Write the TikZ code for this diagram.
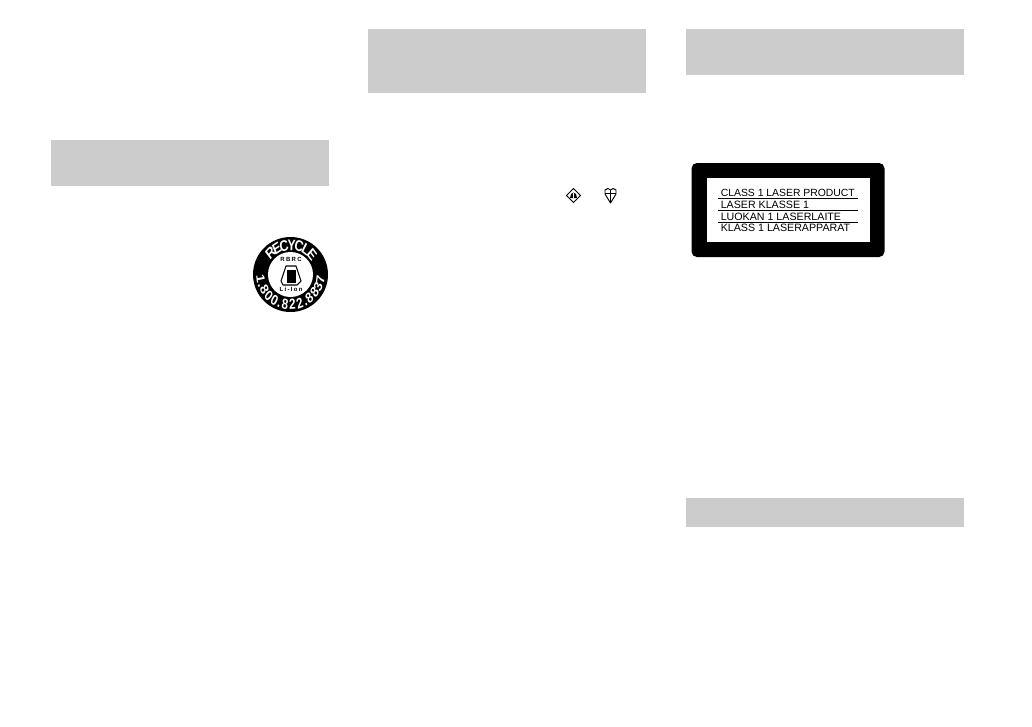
\documentclass[tikz,border=0pt]{standalone}
\usepackage{fontspec}
\setmainfont{Liberation Sans}
\definecolor{bargray}{RGB}{204,204,204}
\tikzset{
	bar/.style={fill=bargray, draw=none},
	lasertext/.style={anchor=base west, inner sep=0pt, font=\fontsize{8pt}{9pt}\selectfont},
	laserrule/.style={line width=.6pt},
	logotext/.style={anchor=base, inner sep=0pt, font=\bfseries\fontsize{4.5pt}{5pt}\selectfont\addfontfeature{LetterSpace=22}},
	ringletter/.style={white, inner sep=0pt, text height=8.3pt, text depth=0pt, xscale=.8, font=\bfseries\fontsize{11.5pt}{12pt}\selectfont},
	ringdigit/.style={white, inner sep=0pt, text height=7.9pt, text depth=0pt, xscale=.8, font=\bfseries\fontsize{11pt}{12pt}\selectfont},
}
\begin{document}
\begin{tikzpicture}[x=.75pt, y=-.75pt]
	\useasboundingbox[fill=white] (0, 0) rectangle (1032, 726);
	% grey bars
	\fill[bar] (51, 140) rectangle (329, 186);
	\fill[bar] (368, 29) rectangle (646, 93);
	\fill[bar] (686, 29) rectangle (964, 75);
	\fill[bar] (686, 498) rectangle (964, 527);
	% recycle seal
	\fill (290.5, 274.5) circle (37.5);
	\fill[white] (290.5, 274.5) circle (22.5);
	\foreach \ch/\ang [count=\i] in {R/133, E/118, C/103, Y/88, C/73, L/58, E/43}
		\node[ringletter, rotate=\ang-90] (letter\i) at ([shift={(290.5, 274.5)}] -\ang:29.5) {\ch};
	\foreach \ch/\ang [count=\i] in {1/189, ./199.7, 8/210.3, 0/224.3, 0/238.3, ./249, 8/259.7, 2/273.7, 2/287.7, ./298.3, 8/309, 8/323, 3/337, 7/351}
		\node[ringdigit, rotate=\ang+90] (digit\i) at ([shift={(290.5, 274.5)}] -\ang:30) {\ch};
	\node[logotext] (rbrc) at (291, 261) {RBRC};
	\node[logotext] (liion) at (291, 291.5) {Li-Ion};
	\draw[line width=.8pt, line join=round] (281, 281) -- (286, 266) -- (296, 266) -- (301, 281) -- (297, 285) -- (283, 285) -- cycle;
	\fill (287, 270) rectangle (295.5, 283);
	% marks
	\draw[line width=.7pt] (573.5, 188.5) -- (580.5, 195.5) -- (573.5, 202.5) -- (566.5, 195.5) -- cycle;
	\fill (570, 198) -- (571, 194) -- (573.5, 192.5) -- (576, 194) -- (577, 198) -- cycle;
	\draw[white, line width=.4pt] (573.5, 192.5) -- (573.5, 198);
	\draw[line width=.7pt, line join=round] (610.5, 203) -- (605, 194) -- (605, 190) -- (608, 188.5) -- (610.5, 190) -- (613, 188.5) -- (616, 190) -- (616, 194) -- cycle;
	\draw[line width=.6pt] (605, 193) -- (616, 193) (610.5, 190) -- (610.5, 203);
	% laser label
	\fill[rounded corners=4] (691.5, 163) rectangle (884.5, 257);
	\fill[white] (706.5, 178) rectangle (870, 242);
	\node[lasertext, font=\fontsize{7.8pt}{9pt}\selectfont] (class) at (720.5, 196) {CLASS 1 LASER PRODUCT};
	\node[lasertext] (klasse) at (720.5, 208) {LASER KLASSE 1};
	\node[lasertext] (luokan) at (720.5, 220) {LUOKAN 1 LASERLAITE};
	\node[lasertext] (klass) at (720.5, 231.5) {KLASS 1 LASERAPPARAT};
	\draw[laserrule] (718, 198.5) -- (858, 198.5);
	\draw[laserrule] (718, 210.5) -- (858, 210.5);
	\draw[laserrule] (718, 222.5) -- (858, 222.5);
\end{tikzpicture}
\end{document}
